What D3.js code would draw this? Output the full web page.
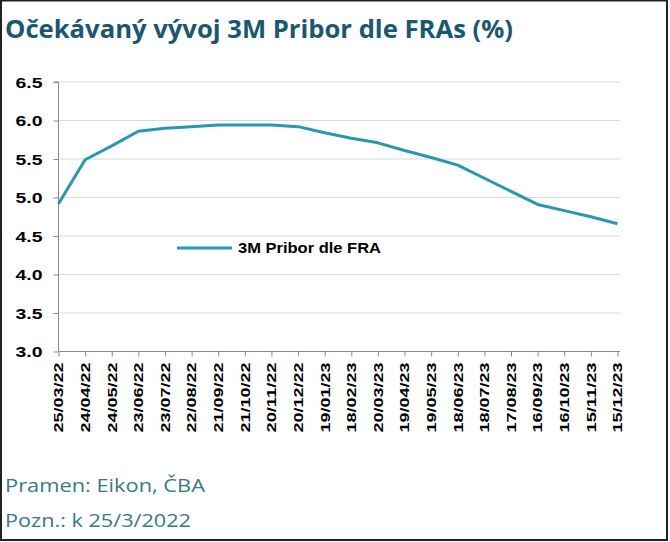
<!DOCTYPE html>
<html><head><meta charset="utf-8">
<script src="https://cdn.jsdelivr.net/npm/d3@7"></script>
<style>body{margin:0;background:#fff;} svg{display:block;}</style>
</head><body>
<svg id="c" width="670" height="542"></svg>
<script>
const dates = ["25/03/22","24/04/22","24/05/22","23/06/22","23/07/22","22/08/22","21/09/22","21/10/22","20/11/22","20/12/22","19/01/23","18/02/23","20/03/23","19/04/23","19/05/23","18/06/23","18/07/23","17/08/23","16/09/23","16/10/23","15/11/23","15/12/23"];
const pribor = [4.92,5.49,5.67,5.86,5.90,5.92,5.94,5.94,5.94,5.92,5.84,5.77,5.71,5.61,5.52,5.42,5.25,5.08,4.91,4.83,4.75,4.66];
const yTicks = [3.0,3.5,4.0,4.5,5.0,5.5,6.0,6.5];
const seriesName = "3M Pribor dle FRA";

const svg = d3.select("#c");
svg.append("rect").attr("x",1).attr("y",0.5).attr("width",666).attr("height",539.5)
  .attr("fill","#fff").attr("stroke","#222").attr("stroke-width",2);

svg.append("text").attr("x",5).attr("y",37.5)
  .attr("font-family","Open Sans").attr("font-weight",700).attr("font-size",25)
  .attr("fill","#1a5870").attr("textLength",508).attr("lengthAdjust","spacingAndGlyphs")
  .text("Očekávaný vývoj 3M Pribor dle FRAs (%)");

const x = d3.scalePoint().domain(dates).range([58.5,617.5]);
const y = d3.scaleLinear().domain([3.0,6.5]).range([351.5,82]);

// grid
svg.append("g").selectAll("line").data(yTicks.slice(1)).join("line")
  .attr("x1",58.5).attr("x2",620).attr("y1",d=>y(d)).attr("y2",d=>y(d))
  .attr("stroke","#d9d9d9").attr("stroke-width",1);

// y axis
const ya = svg.append("g").attr("transform","translate(58.5,0)")
  .call(d3.axisLeft(y).tickValues(yTicks).tickSize(5).tickFormat(d3.format(".1f")));
ya.select(".domain").attr("stroke","#8a8a8a").attr("d","M-5,"+y(6.5)+"H0V"+y(3.0));
ya.selectAll(".tick line").attr("stroke","#8a8a8a");
ya.selectAll(".tick text").attr("x",-16).attr("dy","0.36em")
  .attr("font-family","Arial").attr("font-weight","bold").attr("font-size",15).attr("fill","#000")
  .attr("textLength",27).attr("lengthAdjust","spacingAndGlyphs");

// x axis
const xa = svg.append("g").attr("transform","translate(0,351.5)")
  .call(d3.axisBottom(x).tickSize(5));
xa.select(".domain").attr("stroke","#8a8a8a").attr("d","M58.5,0H620");
xa.selectAll(".tick line").attr("stroke","#8a8a8a");
xa.selectAll(".tick text")
  .attr("transform","rotate(-90)").attr("x",-11).attr("y",0).attr("dy","0.36em")
  .attr("text-anchor","end")
  .attr("font-family","Arial").attr("font-weight","bold").attr("font-size",12).attr("fill","#000")
  .attr("textLength",70).attr("lengthAdjust","spacingAndGlyphs");

// line
const line = d3.line().x((d,i)=>x(dates[i])).y(d=>y(d));
svg.append("path").datum(pribor).attr("d",line).attr("fill","none")
  .attr("stroke","#2a97b1").attr("stroke-width",3).attr("stroke-linejoin","round");

// legend
svg.append("line").attr("x1",177).attr("x2",232).attr("y1",248).attr("y2",248)
  .attr("stroke","#2a97b1").attr("stroke-width",3);
svg.append("text").attr("x",238).attr("y",252.5)
  .attr("font-family","Arial").attr("font-weight","bold").attr("font-size",14).attr("fill","#000")
  .attr("textLength",143).attr("lengthAdjust","spacingAndGlyphs").text(seriesName);

// footer
svg.append("text").attr("x",5).attr("y",491.5)
  .attr("font-family","Open Sans").attr("font-size",19).attr("fill","#3a7888")
  .attr("textLength",200).attr("lengthAdjust","spacingAndGlyphs").text("Pramen: Eikon, ČBA");
svg.append("text").attr("x",5).attr("y",527)
  .attr("font-family","Open Sans").attr("font-size",19).attr("fill","#3a7888")
  .attr("textLength",186).attr("lengthAdjust","spacingAndGlyphs").text("Pozn.: k 25/3/2022");
</script>
</body></html>
